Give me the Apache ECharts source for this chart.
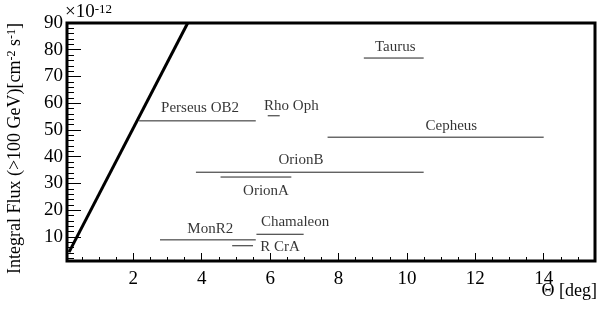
<!DOCTYPE html>
<html>
<head>
<meta charset="utf-8">
<script src="https://cdn.jsdelivr.net/npm/echarts@6/dist/echarts.min.js"></script>
<style>html,body{margin:0;padding:0;background:#fff;}#c{width:600px;height:309px;}</style>
</head>
<body>
<div id="c"></div>
<script>
// ---- data (flux in units of 1e-12 cm^-2 s^-1, theta in deg) ----
var regionNames = ['Perseus OB2', 'Rho Oph', 'Taurus', 'Cepheus', 'OrionB', 'OrionA', 'Chamaleon', 'MonR2', 'R CrA'];
var thetaStart  = [2.17, 5.93, 8.74, 7.68, 3.83, 4.55, 5.60, 2.78, 4.89];
var thetaEnd    = [5.58, 6.28, 10.49, 14.00, 10.49, 6.62, 6.98, 5.58, 5.50];
var regionFlux  = [53.4, 55.3, 76.9, 47.3, 34.2, 32.4, 11.0, 8.9, 6.7];
// label anchor positions in data coordinates
var labelTheta  = [3.95, 6.62, 9.66, 11.30, 6.90, 5.88, 6.73, 4.25, 6.29];
var labelFlux   = [58.1, 58.9, 81.0, 51.5, 38.7, 27.2, 15.4, 13.0, 6.1];
// sensitivity line
var sensTheta = [0.12, 3.59];
var sensFlux  = [4.3, 90];
// ticks
var xMajor = [2, 4, 6, 8, 10, 12, 14];
var xMinor = [0.5, 1, 1.5, 2.5, 3, 3.5, 4.5, 5, 5.5, 6.5, 7, 7.5, 8.5, 9, 9.5, 10.5, 11, 11.5, 12.5, 13, 13.5, 14.5, 15];
var yMajor = [10, 20, 30, 40, 50, 60, 70, 80, 90];
var yMinor = [2, 4, 6, 8, 12, 14, 16, 18, 22, 24, 26, 28, 32, 34, 36, 38, 42, 44, 46, 48, 52, 54, 56, 58, 62, 64, 66, 68, 72, 74, 76, 78, 82, 84, 86, 88];

var FONT = 'Liberation Serif';
var series = [];
series.push({
  type: 'line', xAxisIndex: 0, yAxisIndex: 0, symbol: 'none', silent: true,
  data: sensTheta.map(function (t, i) { return [t, sensFlux[i]]; }),
  lineStyle: { color: '#000', width: 3 }
});
regionNames.forEach(function (n, i) {
  series.push({
    type: 'line', name: n, xAxisIndex: 0, yAxisIndex: 0, symbol: 'none', silent: true,
    data: [[thetaStart[i], regionFlux[i]], [thetaEnd[i], regionFlux[i]]],
    lineStyle: { color: '#222', width: 1 }
  });
});
series.push({
  type: 'scatter', xAxisIndex: 0, yAxisIndex: 0, symbolSize: 1, silent: true,
  itemStyle: { color: 'rgba(0,0,0,0)' },
  data: regionNames.map(function (n, i) { return { name: n, value: [labelTheta[i], labelFlux[i]] }; }),
  label: { show: true, position: 'inside', formatter: '{b}', color: '#000', fontFamily: FONT, fontSize: 15 }
});

function baseAxis(extra) {
  var a = {
    type: 'value', splitLine: { show: false },
    axisLine: { show: false }
  };
  for (var k in extra) a[k] = extra[k];
  return a;
}

var option = {
  animation: false,
  backgroundColor: '#fff',
  grid: { left: 67, right: 5, top: 23, bottom: 48, show: true, borderColor: '#000', borderWidth: 3, backgroundColor: 'transparent' },
  xAxis: [
    baseAxis({ min: 0.06, max: 15.5, position: 'bottom',
      axisTick: { inside: true, length: 8, customValues: xMajor, lineStyle: { color: '#000', width: 1 } },
      axisLabel: { customValues: xMajor, margin: 9, color: '#000', fontFamily: FONT, fontSize: 19 } }),
    baseAxis({ min: 0.06, max: 15.5, position: 'bottom',
      axisTick: { inside: true, length: 4, customValues: xMinor, lineStyle: { color: '#000', width: 1 } },
      axisLabel: { show: false } })
  ],
  yAxis: [
    baseAxis({ min: 1, max: 90, position: 'left',
      axisTick: { inside: true, length: 14, customValues: yMajor, lineStyle: { color: '#000', width: 1 } },
      axisLabel: { customValues: yMajor, margin: 4, color: '#000', fontFamily: FONT, fontSize: 19 } }),
    baseAxis({ min: 1, max: 90, position: 'left',
      axisTick: { inside: true, length: 7, customValues: yMinor, lineStyle: { color: '#000', width: 1 } },
      axisLabel: { show: false } })
  ],
  graphic: [
    { type: 'text', x: 65, y: 3, silent: true,
      style: { text: '{a|×10}{s|-12}', fill: '#000',
        rich: { a: { fontFamily: FONT, fontWeight: 'normal', fontSize: 19, verticalAlign: 'bottom' }, s: { fontFamily: FONT, fontWeight: 'normal', fontSize: 13, verticalAlign: 'top' } } } },
    { type: 'text', x: 597, y: 291, silent: true,
      style: { text: 'Θ [deg]', fill: '#000', fontFamily: FONT, fontWeight: 'normal', fontSize: 18, align: 'right', verticalAlign: 'middle' } },
    { type: 'text', x: 15, y: 23, rotation: Math.PI / 2, silent: true,
      style: { text: '{a|Integral Flux (>100 GeV)[cm}{s|-2}{a| s}{s|-1}{a|]}', fill: '#000', align: 'right', verticalAlign: 'middle',
        rich: { a: { fontFamily: FONT, fontWeight: 'normal', fontSize: 18, verticalAlign: 'bottom' }, s: { fontFamily: FONT, fontWeight: 'normal', fontSize: 12, verticalAlign: 'top' } } } }
  ],
  series: series
};
var chart = echarts.init(document.getElementById('c'), null, { renderer: 'canvas' });
chart.setOption(option);
</script>
</body>
</html>
